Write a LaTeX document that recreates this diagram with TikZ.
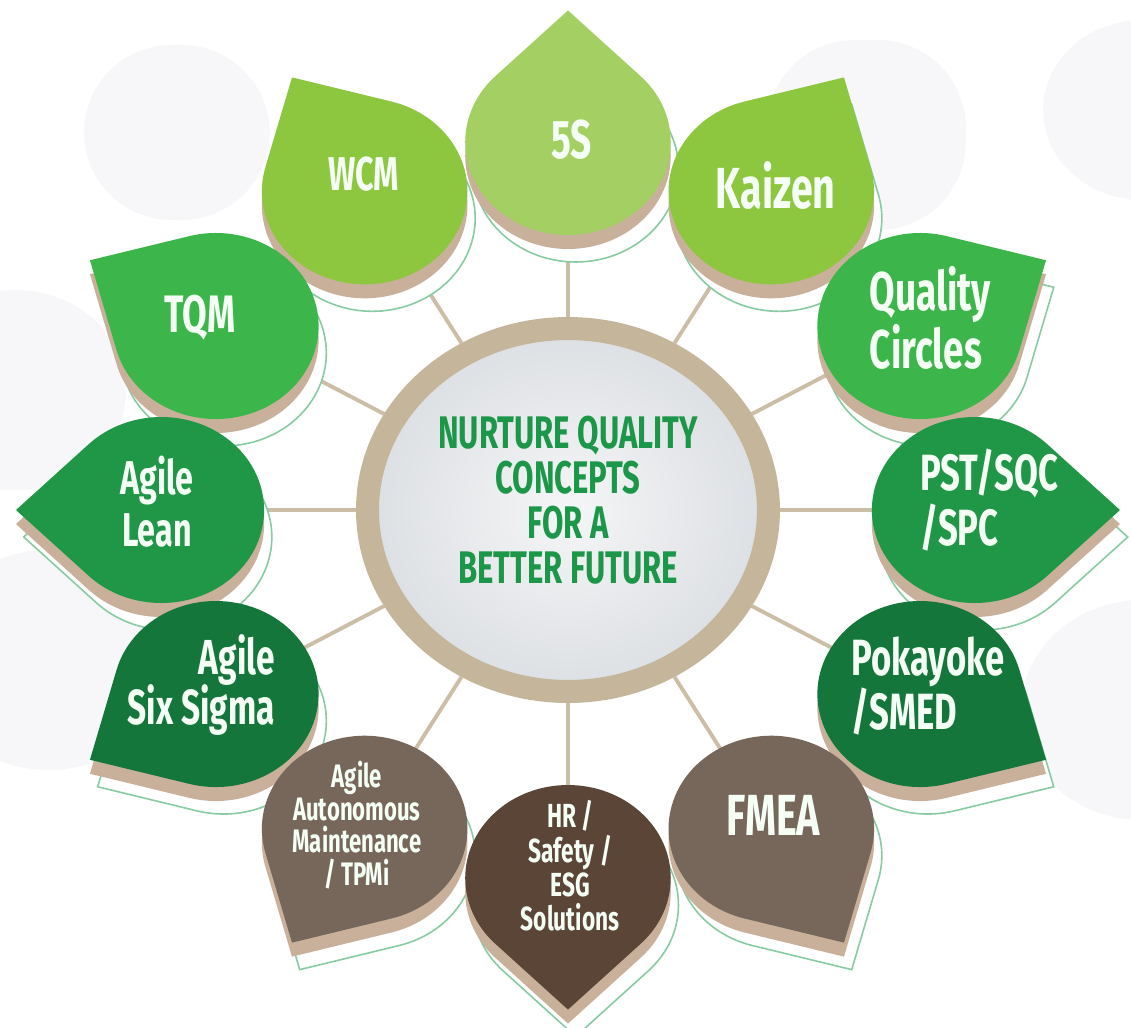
\documentclass[tikz,border=0pt]{standalone}
\usepackage{fontspec}
\setmainfont{Fira Sans}[FakeStretch=0.68]
\usetikzlibrary{backgrounds,shapes.geometric}

\definecolor{leafpale}{HTML}{A4CF62}
\definecolor{leaflime}{HTML}{8DC63F}
\definecolor{leafmid}{HTML}{3CB54A}
\definecolor{leafdeep}{HTML}{1F9746}
\definecolor{leafdark}{HTML}{15763B}
\definecolor{leafbark}{HTML}{76675A}
\definecolor{leafsoil}{HTML}{5A4537}
\definecolor{leafshadow}{HTML}{C8B09A}
\definecolor{leafedge}{HTML}{86CBA2}
\definecolor{ringtan}{HTML}{C4B59B}
\definecolor{spoketan}{HTML}{CBBDA6}
\definecolor{mottogreen}{HTML}{1C9749}
\definecolor{bgleaf}{HTML}{F7F7F9}
\definecolor{hubgrey}{HTML}{DCDFE3}

% teardrop: circle of radius 93 round (#1:368), sharp tip pointing outwards
\newcommand{\leafpath}[1]{(#1:368) ++(#1+45:93) arc[start angle=#1+45, delta angle=270, radius=93] -- ++(#1+45:93) -- cycle}
\newcommand{\leaf}[2]{%
\fill[leafshadow, yshift=-0.28cm] \leafpath{#1};
\fill[#2] \leafpath{#1};
}

\begin{document}
\begin{tikzpicture}[x=0.02cm, y=0.02cm, xscale=1.105]
\tikzstyle{lbl}=[text=white!96!green, align=center, inner sep=0pt, font=\bfseries\fontsize{31}{31}\selectfont]
\tikzstyle{spoke}=[draw=spoketan, line width=2.2pt]
\tikzstyle{edge}=[draw=leafedge, line width=0.9pt, fill=white, xshift=0.14cm, yshift=-0.54cm]
\tikzstyle{hub}=[ellipse, draw=ringtan, line width=0.46cm, minimum width=8.02cm, minimum height=7.26cm, inner color=white!70!hubgrey, outer color=hubgrey]
\useasboundingbox (-514,-517) rectangle (509.5,510);

% petal centres
\coordinate (fiveS) at (90:368);
\coordinate (kaizen) at (60:368);
\coordinate (qc) at (30:368);
\coordinate (pst) at (0:368);
\coordinate (poka) at (-30:368);
\coordinate (fmea) at (-60:368);
\coordinate (hr) at (-90:368);
\coordinate (tpm) at (-120:368);
\coordinate (sixsig) at (-150:368);
\coordinate (lean) at (180:368);
\coordinate (tqm) at (150:368);
\coordinate (wcm) at (120:368);

\node[hub] (hub) at (0,0) {};
\node[text=mottogreen, align=center, inner sep=0pt, font=\bfseries\fontsize{26}{25.5}\selectfont] (motto) at (0,10)
{NURTURE QUALITY\\CONCEPTS\\FOR A\\BETTER FUTURE};

\begin{scope}[on background layer]
\fill[white] (-514,-517) rectangle (509.5,510);
% faint leaves in the back
\fill[bgleaf, rounded corners=50pt] (-438,290) rectangle (-270,465);
\fill[bgleaf, rounded corners=50pt] (180,280) rectangle (360,470);
\fill[bgleaf] (520,400) circle (90);
\fill[bgleaf] (-500,120) circle (100);
\fill[bgleaf] (-470,-150) circle (110);
\fill[bgleaf] (520,-200) circle (110);
\draw[spoke] (hub) -- (fiveS)
(hub) -- (kaizen)
(hub) -- (qc)
(hub) -- (pst)
(hub) -- (poka)
(hub) -- (fmea)
(hub) -- (hr)
(hub) -- (tpm)
(hub) -- (sixsig)
(hub) -- (lean)
(hub) -- (tqm)
(hub) -- (wcm);
\end{scope}

% thin outlines behind the petals
\foreach \a in {90,60,...,-240}
\path[edge] \leafpath{\a};

\leaf{90}{leafpale}
\leaf{60}{leaflime}
\leaf{120}{leaflime}
\leaf{30}{leafmid}
\leaf{150}{leafmid}
\leaf{0}{leafdeep}
\leaf{180}{leafdeep}
\leaf{-30}{leafdark}
\leaf{-150}{leafdark}
\leaf{-60}{leafbark}
\leaf{-120}{leafbark}
\leaf{-90}{leafsoil}

\node[lbl] (l5s) at (3,370) {5S};
\node[lbl, font=\bfseries\fontsize{33}{31}\selectfont] (lkaizen) at (188,325) {Kaizen};
\node[lbl, align=left] (lqc) at (328,192) {Quality\\Circles};
\node[lbl, align=left, font=\bfseries\fontsize{29}{31}\selectfont] (lpst) at (381,10) {PST/SQC\\/SPC};
\node[lbl, align=left, font=\bfseries\fontsize{29}{31}\selectfont] (lpoka) at (326,-176) {Pokayoke\\/SMED};
\node[lbl, font=\bfseries\fontsize{33}{31}\selectfont] (lfmea) at (186,-305) {FMEA};
\node[lbl, font=\bfseries\fontsize{19}{19.5}\selectfont] (lhr) at (2,-356) {HR /\\Safety /\\ESG\\Solutions};
\node[lbl, font=\bfseries\fontsize{18.5}{18.5}\selectfont] (ltpm) at (-191,-315) {Agile\\Autonomous\\Maintenance\\/ TPMi};
\node[lbl, align=right, font=\bfseries\fontsize{28}{29}\selectfont] (lsixsig) at (-332,-175) {Agile\\Six Sigma};
\node[lbl, font=\bfseries\fontsize{27}{29.5}\selectfont] (llean) at (-372,8) {Agile\\Lean};
\node[lbl, font=\bfseries\fontsize{30}{30}\selectfont] (ltqm) at (-333,192) {TQM};
\node[lbl, font=\bfseries\fontsize{27}{30}\selectfont] (lwcm) at (-185,336) {WCM};
\end{tikzpicture}
\end{document}
